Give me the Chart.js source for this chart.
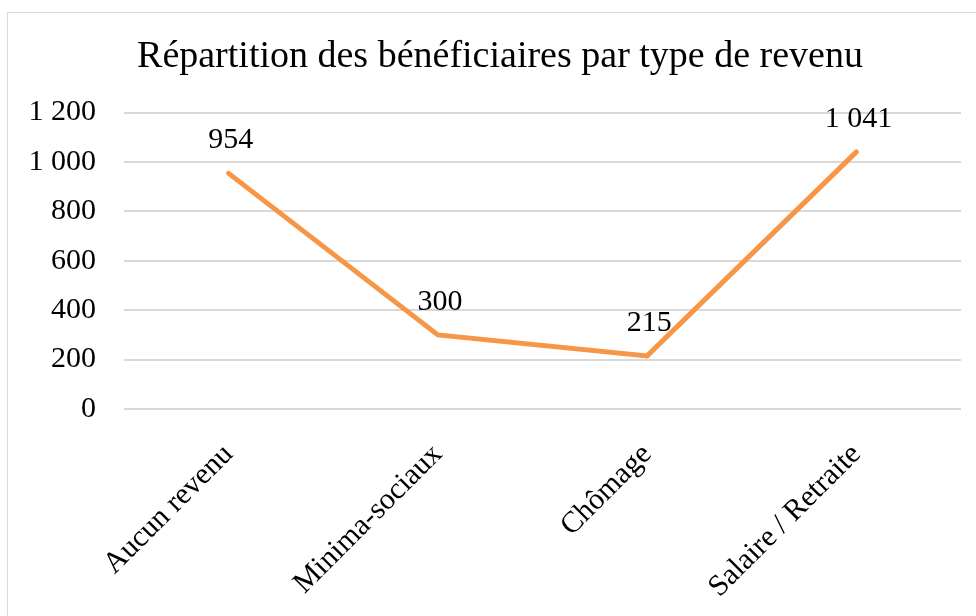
<!DOCTYPE html>
<html>
<head>
<meta charset="utf-8">
<script src="https://cdn.jsdelivr.net/npm/chart.js@4"></script>
<style>
  html, body { margin: 0; padding: 0; background: #fff; overflow: hidden; }
  #frame { position: absolute; left: 7px; top: 12px; width: 1100px; height: 800px; border: 1px solid #d9d9d9; }
  #chart { position: absolute; left: 0; top: 0; }
</style>
</head>
<body>
<div id="frame"></div>
<canvas id="chart" width="976" height="616"></canvas>
<script>
var categories = ['Aucun revenu', 'Minima-sociaux', 'Chômage', 'Salaire / Retraite'];
var beneficiaires = [954, 300, 215, 1041];
var valueLabels = ['954', '300', '215', '1 041'];
var yTickLabels = ['0', '200', '400', '600', '800', '1 000', '1 200'];

var SERIF = "'Liberation Serif', 'Times New Roman', serif";

// draws the value above each point
var valueLabelPlugin = {
  id: 'valueLabels',
  afterDatasetsDraw: function (chart) {
    var ctx = chart.ctx;
    var meta = chart.getDatasetMeta(0);
    ctx.save();
    ctx.font = '30px ' + SERIF;
    ctx.fillStyle = '#000';
    ctx.textAlign = 'center';
    ctx.textBaseline = 'alphabetic';
    meta.data.forEach(function (pt, i) {
      ctx.fillText(valueLabels[i], pt.x + 2, pt.y - 25);
    });
    ctx.restore();
  }
};

new Chart(document.getElementById('chart'), {
  type: 'line',
  data: {
    labels: categories,
    datasets: [{
      data: beneficiaires,
      borderColor: '#F79646',
      borderWidth: 5,
      borderCapStyle: 'round',
      pointRadius: 0,
      pointHoverRadius: 0,
      tension: 0
    }]
  },
  options: {
    responsive: false,
    animation: false,
    layout: { padding: { left: 24, right: 0, top: 0, bottom: 0 } },
    plugins: {
      legend: { display: false },
      tooltip: { enabled: false },
      title: {
        display: true,
        text: 'Répartition des bénéficiaires par type de revenu',
        color: '#000',
        font: { family: SERIF, size: 38, weight: 'normal' },
        padding: { top: 34, bottom: 33 }
      }
    },
    scales: {
      x: {
        offset: true,
        grid: { display: false },
        border: { display: false },
        ticks: {
          autoSkip: false,
          maxRotation: 45,
          minRotation: 45,
          padding: 20,
          color: '#000',
          font: { family: SERIF, size: 30 }
        },
        afterFit: function (scale) { scale.height = 207; }
      },
      y: {
        min: 0,
        max: 1200,
        grid: { color: '#d9d9d9', lineWidth: 2, drawTicks: false },
        border: { display: false },
        ticks: {
          stepSize: 200,
          padding: 28,
          color: '#000',
          font: { family: SERIF, size: 30 },
          callback: function (v, i) { return yTickLabels[i]; }
        },
        afterFit: function (scale) { scale.width = 100; }
      },
      // empty right margin so the title stays centred on the frame
      yRight: {
        position: 'right',
        min: 0,
        max: 1200,
        grid: { drawOnChartArea: false, drawTicks: false },
        border: { display: false },
        ticks: { display: false },
        afterFit: function (scale) { scale.width = 15; }
      }
    }
  },
  plugins: [valueLabelPlugin]
});
</script>
</body>
</html>
